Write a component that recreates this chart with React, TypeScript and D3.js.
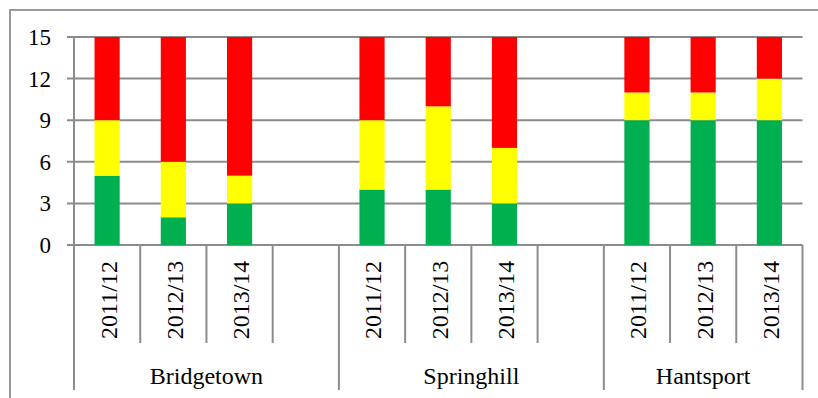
import React from "react";
import * as d3 from "d3";

const groups = ["Bridgetown", "Springhill", "Hantsport"];
const periods = ["2011/12", "2012/13", "2013/14"];
// values per group, per period
const greenValues = [
  [5, 2, 3],
  [4, 4, 3],
  [9, 9, 9],
];
const yellowValues = [
  [4, 4, 2],
  [5, 6, 4],
  [2, 2, 3],
];
const redValues = [
  [6, 9, 10],
  [6, 5, 8],
  [4, 4, 3],
];
const yTicks = [0, 3, 6, 9, 12, 15];
const seriesColors = ["#00B050", "#FFFF00", "#FF0000"];

const W = 818;
const H = 398;
const left = 74;
const right = 802.5;
const top = 37;
const bottom = 245;
const gridColor = "#8c8c8c";
const font = "Liberation Serif";

type Slot = { key: string; group: number; period: number | null };
const slots: Slot[] = [];
groups.forEach((g, gi) => {
  periods.forEach((p, pi) => slots.push({ key: `${g}|${p}`, group: gi, period: pi }));
  if (gi < groups.length - 1) slots.push({ key: `${g}|gap`, group: gi, period: null });
});

export default function App() {
  const x = d3
    .scaleBand<string>()
    .domain(slots.map((s) => s.key))
    .range([left, right])
    .paddingInner(0.62)
    .paddingOuter(0.31);
  const step = x.step();
  const slotStart = (k: string) => (x(k) as number) - step * 0.31;
  const y = d3.scaleLinear().domain([0, 15]).range([bottom, top]);

  const stackInput = slots
    .filter((s) => s.period !== null)
    .map((s) => ({
      key: s.key,
      green: greenValues[s.group][s.period as number],
      yellow: yellowValues[s.group][s.period as number],
      red: redValues[s.group][s.period as number],
    }));
  const stacked = d3.stack<any>().keys(["green", "yellow", "red"])(stackInput);

  const groupBounds = groups.map((g, gi) => {
    const gs = slots.filter((s) => s.group === gi);
    const x0 = slotStart(gs[0].key);
    const x1 = slotStart(gs[gs.length - 1].key) + step;
    return { name: g, x0, x1 };
  });

  const textStyle = { fontFamily: font, fill: "#000" } as React.CSSProperties;

  return (
    <svg
      width={W}
      height={H}
      style={{ position: "absolute", left: 0, top: 0, background: "#fff" }}
    >
      <rect x={10} y={10} width={W + 20} height={H + 20} fill="#fff" stroke="#999" strokeWidth={2} />
      {yTicks.map((t) => (
        <line key={t} x1={left - 7} x2={right} y1={y(t)} y2={y(t)} stroke={gridColor} strokeWidth={2} />
      ))}
      <line x1={left} x2={left} y1={top} y2={bottom} stroke={gridColor} strokeWidth={2} />
      {yTicks.map((t) => (
        <text
          key={t}
          x={51}
          y={y(t)}
          dy="0.35em"
          textAnchor="end"
          fontSize={23}
          style={textStyle}
        >
          {t}
        </text>
      ))}
      {stacked.map((layer, li) =>
        layer.map((d, i) => (
          <rect
            key={`${li}-${i}`}
            x={x(d.data.key)}
            width={x.bandwidth()}
            y={y(d[1])}
            height={y(d[0]) - y(d[1])}
            fill={seriesColors[li]}
          />
        ))
      )}
      {slots.map((s, i) => {
        const xs = slotStart(s.key);
        const isGroupStart = i === 0 || slots[i - 1].group !== s.group;
        return (
          <line
            key={s.key}
            x1={xs}
            x2={xs}
            y1={bottom}
            y2={isGroupStart ? 390 : 343}
            stroke={gridColor}
            strokeWidth={2}
          />
        );
      })}
      <line x1={right} x2={right} y1={bottom} y2={390} stroke={gridColor} strokeWidth={2} />
      {slots
        .filter((s) => s.period !== null)
        .map((s) => {
          const cx = (x(s.key) as number) + x.bandwidth() / 2;
          return (
            <text
              key={s.key}
              transform={`translate(${cx + 1},300) rotate(-90)`}
              dy="0.35em"
              textAnchor="middle"
              fontSize={24}
              style={textStyle}
            >
              {periods[s.period as number]}
            </text>
          );
        })}
      {groupBounds.map((g) => (
        <text
          key={g.name}
          x={(g.x0 + g.x1) / 2}
          y={384}
          textAnchor="middle"
          fontSize={24}
          style={textStyle}
        >
          {g.name}
        </text>
      ))}
    </svg>
  );
}
